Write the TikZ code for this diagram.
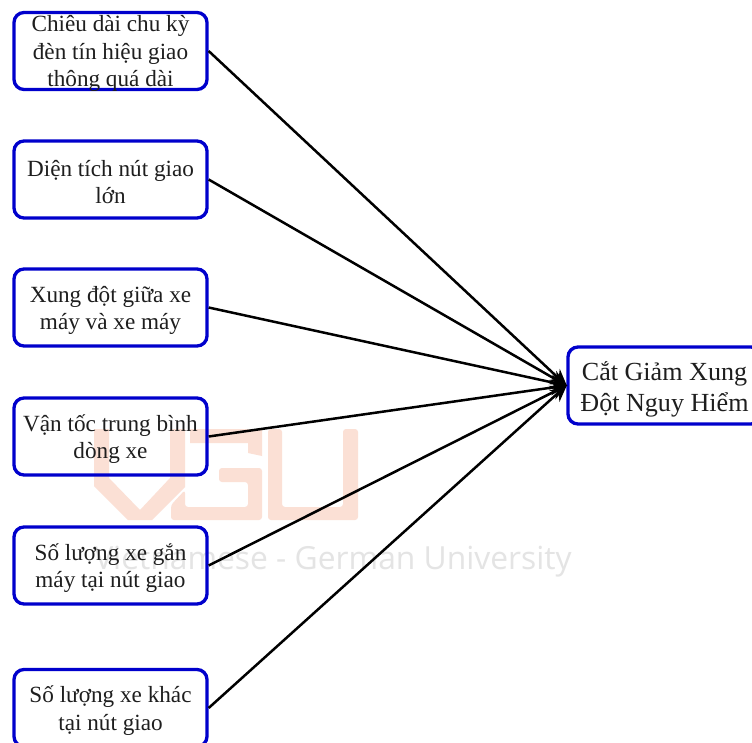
\documentclass[tikz,border=0pt]{standalone}
\usepackage{fontspec}
\setmainfont{Liberation Serif}
\newfontfamily\wmfont{Open Sans}
\usetikzlibrary{arrows.meta}
\definecolor{boxblue}{HTML}{0000CC}
\definecolor{wmred}{HTML}{FBE0D5}
\definecolor{wmgrey}{HTML}{E4E4E4}
\definecolor{txt}{HTML}{1E1E1E}
\newcommand{\boxtext}[1]{\smash{\raisebox{-9pt}{\parbox[c]{189pt}{\centering #1}}}}
\newcommand{\goaltext}[1]{\smash{\raisebox{-10.5pt}{\parbox[c]{189pt}{\centering #1}}}}
\tikzset{
  x=1pt,y=-1pt,
  fbox/.style={draw=boxblue,line width=3.3pt,rounded corners=10pt,inner sep=0pt,
    minimum width=193pt,minimum height=77pt,text=txt,font=\fontsize{23.2}{27.5}\selectfont},
  goalbox/.style={fbox,font=\fontsize{26.1}{31}\selectfont},
  conn/.style={draw=black,line width=2.5pt,-{Stealth[length=17pt,width=15pt]},shorten >=-1pt}
}
\begin{document}
\begin{tikzpicture}
\useasboundingbox (0,0) rectangle (752,742);
\clip (0,0) rectangle (752,742);
\fill[white] (0,0) rectangle (752,742);
% watermark
\begin{scope}[fill=wmred,draw=none]
\fill (94,429) -- (109,429) -- (109,478) -- (140,510) -- (170,478) -- (170,429) -- (185,429) -- (185,487) -- (152,520) -- (128,520) -- (94,486) -- cycle;
\fill (190,429) -- (262,429) -- (262,456) -- (248,453) -- (248,443) -- (190,443) -- cycle;
\fill[rounded corners=3pt] (185,490) -- (171,505) -- (171,520) -- (262,520) -- (262,468) -- (219,468) -- (219,482) -- (248,482) -- (248,507) -- (185,507) -- cycle;
\fill[rounded corners=3pt] (268,429) -- (282,429) -- (282,507) -- (343,507) -- (343,429) -- (358,429) -- (358,520) -- (268,520) -- cycle;
\end{scope}
\node[anchor=center,text=wmgrey,font=\wmfont\fontsize{31.8}{38}\selectfont,inner sep=0pt] (wmt) at (333,562) {Vietnamese - German University};
% boxes
\node[fbox] (a) at (110.5,51) {\boxtext{Chiêu dài chu kỳ\\đèn tín hiệu giao\\thông quá dài}};
\node[fbox] (b) at (110.5,179.5) {\boxtext{Diện tích nút giao\\lớn}};
\node[fbox] (c) at (110.5,307.5) {\boxtext{Xung đột giữa xe\\máy và xe máy}};
\node[fbox] (d) at (110.5,436.5) {\boxtext{Vận tốc trung bình\\dòng xe}};
\node[fbox] (e) at (110.5,565.5) {\boxtext{Số lượng xe gắn\\máy tại nút giao}};
\node[fbox] (f) at (110.5,708) {\boxtext{Số lượng xe khác\\tại nút giao}};
\node[goalbox] (t) at (664.5,385.5) {\goaltext{Cắt Giảm Xung\\Đột Nguy Hiểm}};
% connectors
\foreach \s in {a,b,c,d,e,f}{
  \draw[conn] (\s.east) -- (t.west);
}
\end{tikzpicture}
\end{document}
